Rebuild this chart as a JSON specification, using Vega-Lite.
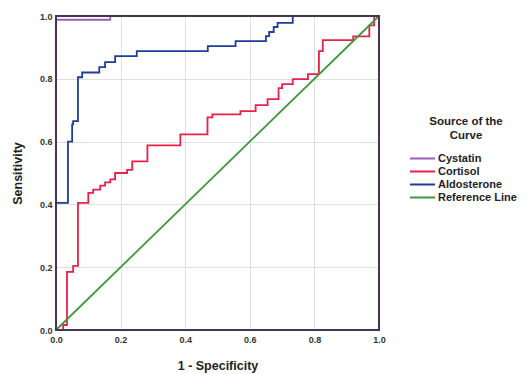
{
  "$schema": "https://vega.github.io/schema/vega-lite/v6.json",
  "width": 323,
  "height": 314,
  "autosize": {"type": "none"},
  "padding": {"left": 56, "top": 16, "right": 152, "bottom": 44},
  "background": "white",
  "config": {
    "font": "Liberation Sans",
    "view": {"stroke": null},
    "axis": {
      "domain": false,
      "ticks": false,
      "labelFont": "Liberation Sans",
      "labelFontWeight": "bold",
      "labelFontSize": 9,
      "labelColor": "#333333",
      "titleFont": "Liberation Sans",
      "titleFontWeight": "bold",
      "titleFontSize": 12.5,
      "titleColor": "#222222",
      "gridColor": {"condition": {"test": "round(datum.value*10)%2==1", "value": "#bdbdbd"}, "value": "#e0e0e0"},
      "gridWidth": 1
    }
  },
  "data": {
    "values": [
      {"s": "Cystatin", "i": 0, "x": 0, "y": 0},
      {"s": "Cystatin", "i": 1, "x": 0, "y": 0.988},
      {"s": "Cystatin", "i": 2, "x": 0.168, "y": 0.988},
      {"s": "Cystatin", "i": 3, "x": 0.168, "y": 1},
      {"s": "Cystatin", "i": 4, "x": 1, "y": 1},

      {"s": "Cortisol", "i": 0, "x": 0, "y": 0},
      {"s": "Cortisol", "i": 1, "x": 0.022, "y": 0},
      {"s": "Cortisol", "i": 2, "x": 0.022, "y": 0.016},
      {"s": "Cortisol", "i": 3, "x": 0.034, "y": 0.016},
      {"s": "Cortisol", "i": 4, "x": 0.034, "y": 0.185},
      {"s": "Cortisol", "i": 5, "x": 0.053, "y": 0.185},
      {"s": "Cortisol", "i": 6, "x": 0.053, "y": 0.204},
      {"s": "Cortisol", "i": 7, "x": 0.068, "y": 0.204},
      {"s": "Cortisol", "i": 8, "x": 0.068, "y": 0.405},
      {"s": "Cortisol", "i": 9, "x": 0.1, "y": 0.405},
      {"s": "Cortisol", "i": 10, "x": 0.1, "y": 0.437},
      {"s": "Cortisol", "i": 11, "x": 0.115, "y": 0.437},
      {"s": "Cortisol", "i": 12, "x": 0.115, "y": 0.447},
      {"s": "Cortisol", "i": 13, "x": 0.137, "y": 0.447},
      {"s": "Cortisol", "i": 14, "x": 0.137, "y": 0.46},
      {"s": "Cortisol", "i": 15, "x": 0.152, "y": 0.46},
      {"s": "Cortisol", "i": 16, "x": 0.152, "y": 0.47},
      {"s": "Cortisol", "i": 17, "x": 0.168, "y": 0.47},
      {"s": "Cortisol", "i": 18, "x": 0.168, "y": 0.48},
      {"s": "Cortisol", "i": 19, "x": 0.183, "y": 0.48},
      {"s": "Cortisol", "i": 20, "x": 0.183, "y": 0.5},
      {"s": "Cortisol", "i": 21, "x": 0.22, "y": 0.5},
      {"s": "Cortisol", "i": 22, "x": 0.22, "y": 0.51},
      {"s": "Cortisol", "i": 23, "x": 0.236, "y": 0.51},
      {"s": "Cortisol", "i": 24, "x": 0.236, "y": 0.537},
      {"s": "Cortisol", "i": 25, "x": 0.283, "y": 0.537},
      {"s": "Cortisol", "i": 26, "x": 0.283, "y": 0.588},
      {"s": "Cortisol", "i": 27, "x": 0.385, "y": 0.588},
      {"s": "Cortisol", "i": 28, "x": 0.385, "y": 0.623},
      {"s": "Cortisol", "i": 29, "x": 0.469, "y": 0.623},
      {"s": "Cortisol", "i": 30, "x": 0.469, "y": 0.677},
      {"s": "Cortisol", "i": 31, "x": 0.484, "y": 0.677},
      {"s": "Cortisol", "i": 32, "x": 0.484, "y": 0.687},
      {"s": "Cortisol", "i": 33, "x": 0.571, "y": 0.687},
      {"s": "Cortisol", "i": 34, "x": 0.571, "y": 0.697},
      {"s": "Cortisol", "i": 35, "x": 0.618, "y": 0.697},
      {"s": "Cortisol", "i": 36, "x": 0.618, "y": 0.716},
      {"s": "Cortisol", "i": 37, "x": 0.655, "y": 0.716},
      {"s": "Cortisol", "i": 38, "x": 0.655, "y": 0.735},
      {"s": "Cortisol", "i": 39, "x": 0.689, "y": 0.735},
      {"s": "Cortisol", "i": 40, "x": 0.689, "y": 0.77},
      {"s": "Cortisol", "i": 41, "x": 0.7, "y": 0.77},
      {"s": "Cortisol", "i": 42, "x": 0.7, "y": 0.783},
      {"s": "Cortisol", "i": 43, "x": 0.733, "y": 0.783},
      {"s": "Cortisol", "i": 44, "x": 0.733, "y": 0.799},
      {"s": "Cortisol", "i": 45, "x": 0.78, "y": 0.799},
      {"s": "Cortisol", "i": 46, "x": 0.78, "y": 0.815},
      {"s": "Cortisol", "i": 47, "x": 0.814, "y": 0.815},
      {"s": "Cortisol", "i": 48, "x": 0.814, "y": 0.888},
      {"s": "Cortisol", "i": 49, "x": 0.826, "y": 0.888},
      {"s": "Cortisol", "i": 50, "x": 0.826, "y": 0.923},
      {"s": "Cortisol", "i": 51, "x": 0.92, "y": 0.923},
      {"s": "Cortisol", "i": 52, "x": 0.92, "y": 0.935},
      {"s": "Cortisol", "i": 53, "x": 0.97, "y": 0.935},
      {"s": "Cortisol", "i": 54, "x": 0.97, "y": 0.97},
      {"s": "Cortisol", "i": 55, "x": 0.985, "y": 0.97},
      {"s": "Cortisol", "i": 56, "x": 0.985, "y": 1},
      {"s": "Cortisol", "i": 57, "x": 1, "y": 1},

      {"s": "Aldosterone", "i": 0, "x": 0, "y": 0},
      {"s": "Aldosterone", "i": 1, "x": 0, "y": 0.405},
      {"s": "Aldosterone", "i": 2, "x": 0.037, "y": 0.405},
      {"s": "Aldosterone", "i": 3, "x": 0.037, "y": 0.6},
      {"s": "Aldosterone", "i": 4, "x": 0.05, "y": 0.6},
      {"s": "Aldosterone", "i": 5, "x": 0.05, "y": 0.655},
      {"s": "Aldosterone", "i": 6, "x": 0.053, "y": 0.655},
      {"s": "Aldosterone", "i": 7, "x": 0.053, "y": 0.665},
      {"s": "Aldosterone", "i": 8, "x": 0.068, "y": 0.665},
      {"s": "Aldosterone", "i": 9, "x": 0.068, "y": 0.805},
      {"s": "Aldosterone", "i": 10, "x": 0.081, "y": 0.805},
      {"s": "Aldosterone", "i": 11, "x": 0.081, "y": 0.82},
      {"s": "Aldosterone", "i": 12, "x": 0.134, "y": 0.82},
      {"s": "Aldosterone", "i": 13, "x": 0.134, "y": 0.837},
      {"s": "Aldosterone", "i": 14, "x": 0.152, "y": 0.837},
      {"s": "Aldosterone", "i": 15, "x": 0.152, "y": 0.853},
      {"s": "Aldosterone", "i": 16, "x": 0.183, "y": 0.853},
      {"s": "Aldosterone", "i": 17, "x": 0.183, "y": 0.872},
      {"s": "Aldosterone", "i": 18, "x": 0.25, "y": 0.872},
      {"s": "Aldosterone", "i": 19, "x": 0.25, "y": 0.888},
      {"s": "Aldosterone", "i": 20, "x": 0.47, "y": 0.888},
      {"s": "Aldosterone", "i": 21, "x": 0.47, "y": 0.904},
      {"s": "Aldosterone", "i": 22, "x": 0.556, "y": 0.904},
      {"s": "Aldosterone", "i": 23, "x": 0.556, "y": 0.92},
      {"s": "Aldosterone", "i": 24, "x": 0.65, "y": 0.92},
      {"s": "Aldosterone", "i": 25, "x": 0.65, "y": 0.936},
      {"s": "Aldosterone", "i": 26, "x": 0.66, "y": 0.936},
      {"s": "Aldosterone", "i": 27, "x": 0.66, "y": 0.949},
      {"s": "Aldosterone", "i": 28, "x": 0.674, "y": 0.949},
      {"s": "Aldosterone", "i": 29, "x": 0.674, "y": 0.965},
      {"s": "Aldosterone", "i": 30, "x": 0.686, "y": 0.965},
      {"s": "Aldosterone", "i": 31, "x": 0.686, "y": 0.978},
      {"s": "Aldosterone", "i": 32, "x": 0.733, "y": 0.978},
      {"s": "Aldosterone", "i": 33, "x": 0.733, "y": 1},
      {"s": "Aldosterone", "i": 34, "x": 1, "y": 1},

      {"s": "Reference Line", "i": 0, "x": 0, "y": 0},
      {"s": "Reference Line", "i": 1, "x": 1, "y": 1}
    ]
  },
  "layer": [
    {
      "mark": {"type": "line", "strokeWidth": 1.8, "clip": false},
      "encoding": {
        "x": {
          "field": "x", "type": "quantitative",
          "scale": {"domain": [0, 1], "nice": false, "zero": false},
          "axis": {
            "title": "1 - Specificity",
            "values": [0, 0.1, 0.2, 0.3, 0.4, 0.5, 0.6, 0.7, 0.8, 0.9, 1],
            "labelExpr": "round(datum.value*10)%2==0 ? format(datum.value, '.1f') : ''",
            "labelPadding": 5,
            "titlePadding": 15,
            "labelFlush": false
          }
        },
        "y": {
          "field": "y", "type": "quantitative",
          "scale": {"domain": [0, 1], "nice": false, "zero": false},
          "axis": {
            "title": "Sensitivity",
            "values": [0, 0.1, 0.2, 0.3, 0.4, 0.5, 0.6, 0.7, 0.8, 0.9, 1],
            "labelExpr": "round(datum.value*10)%2==0 ? format(datum.value, '.1f') : ''",
            "labelPadding": 4,
            "titlePadding": 15,
            "labelFlush": false
          }
        },
        "order": {"field": "i", "type": "quantitative"},
        "color": {
          "field": "s", "type": "nominal",
          "scale": {
            "domain": ["Cystatin", "Cortisol", "Aldosterone", "Reference Line"],
            "range": ["#9a5cb4", "#e8204a", "#1f3d99", "#3d993d"]
          },
          "legend": {
            "title": ["Source of the", "Curve"],
            "orient": "none",
            "legendX": 359,
            "legendY": 100,
            "titleFont": "Liberation Sans",
            "titleFontSize": 11.5,
            "titleFontWeight": "bold",
            "titleColor": "#222222",
            "titleAnchor": "middle",
            "titleAlign": "center",
            "titleLineHeight": 13.5,
            "titlePadding": 10,
            "labelFont": "Liberation Sans",
            "labelFontSize": 11,
            "labelFontWeight": "bold",
            "labelColor": "#222222",
            "symbolType": "M-2,0H2",
            "symbolSize": 156,
            "symbolStrokeWidth": 2,
            "labelOffset": 8,
            "rowPadding": -1
          }
        }
      }
    },
    {
      "mark": {"type": "rect", "fill": null, "fillOpacity": 0, "stroke": "#4a3358", "strokeWidth": 1.6, "clip": false},
      "encoding": {
        "x": {"datum": 0, "type": "quantitative"},
        "x2": {"datum": 1},
        "y": {"datum": 0, "type": "quantitative"},
        "y2": {"datum": 1}
      }
    }
  ]
}
